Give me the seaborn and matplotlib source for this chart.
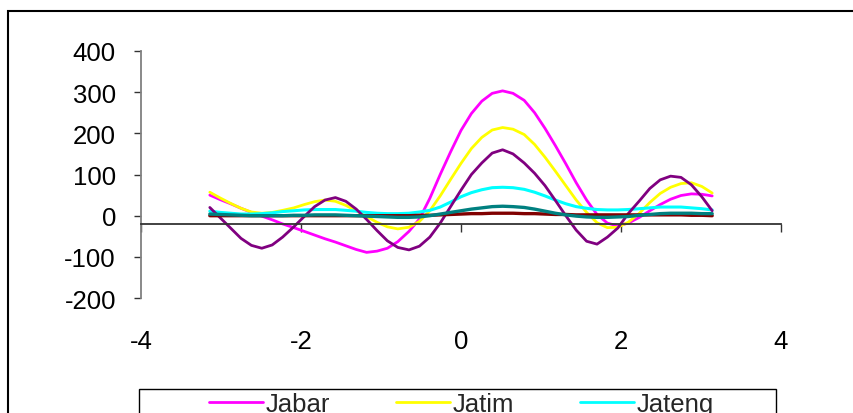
import matplotlib
matplotlib.use("Agg")
import matplotlib.pyplot as plt
from matplotlib.patches import Rectangle
from matplotlib.lines import Line2D
import seaborn as sns
import pandas as pd

# ---- data ----
x_vals = [-3.14, -3.01, -2.88, -2.75, -2.62, -2.49, -2.36, -2.23, -2.09, -1.96,
          -1.83, -1.70, -1.57, -1.44, -1.31, -1.18, -1.05, -0.92, -0.79, -0.65,
          -0.52, -0.39, -0.26, -0.13, 0.0, 0.13, 0.26, 0.39, 0.52, 0.65,
          0.79, 0.92, 1.05, 1.18, 1.31, 1.44, 1.57, 1.70, 1.83, 1.96,
          2.09, 2.23, 2.36, 2.49, 2.62, 2.75, 2.88, 3.01, 3.14]

jabar = [50, 39, 29, 18, 8, -1, -10, -20, -29, -38,
         -47, -56, -64, -73, -82, -89, -86, -79, -63, -38,
         -8, 42, 100, 155, 207, 248, 278, 297, 303, 297,
         280, 250, 212, 170, 126, 80, 38, 3, -18, -25,
         -18, -4, 12, 27, 40, 49, 53, 52, 48]
jatim = [57, 43, 30, 18, 9, 6, 8, 13, 19, 27,
         34, 38, 35, 25, 12, -2, -16, -27, -32, -28,
         -14, 12, 48, 88, 127, 163, 190, 208, 214, 210,
         197, 173, 142, 108, 73, 38, 8, -17, -29, -28,
         -16, 6, 32, 54, 69, 78, 80, 71, 55]
jateng = [11, 8, 6, 4, 4, 5, 7, 10, 12, 14,
          15, 15, 15, 13, 11, 8, 6, 5, 5, 6,
          9, 13, 21, 33, 46, 56, 63, 68, 69, 68,
          64, 57, 48, 38, 29, 22, 18, 15, 14, 14,
          15, 17, 19, 21, 21, 21, 19, 17, 14]
dki = [20, -5, -30, -55, -72, -79, -71, -52, -27, -2,
       22, 38, 44, 35, 16, -9, -36, -61, -77, -83,
       -74, -52, -18, 22, 62, 100, 128, 152, 160, 150,
       128, 103, 73, 37, 0, -35, -62, -69, -52, -30,
       5, 36, 66, 87, 96, 93, 75, 46, 12]
diy = [0, 0, 0, 0, 0, 0, 0, 0, 0, 0,
       0, 0, 0, 0, 0, 0, 0, 0, 0, 0,
       1, 1, 2, 3, 4, 5, 5, 6, 6, 6,
       5, 5, 4, 3, 3, 2, 2, 2, 2, 2,
       2, 2, 2, 2, 2, 2, 1, 1, 0]
bali = [4, 3, 2, 1, 0, 0, 0, 0, 1, 1,
        2, 2, 2, 1, 0, -1, -2, -3, -4, -4,
        -3, 0, 4, 8, 12, 16, 19, 22, 23, 22,
        20, 16, 11, 6, 2, -1, -3, -4, -4, -3,
        -2, 1, 3, 5, 6, 6, 6, 5, 5]

series_names = ["Jabar", "Jatim", "Jateng", "DKI", "DIY", "Bali"]
series_vals = [jabar, jatim, jateng, dki, diy, bali]
series_colors = ["#FF00FF", "#FFFF00", "#00FFFF", "#800080", "#800000", "#008080"]
series_widths = [2.0, 2.0, 2.2, 2.0, 2.4, 2.4]
x_ticks = [-4, -2, 0, 2, 4]
y_ticks = [-200, -100, 0, 100, 200, 300, 400]

rows = []
for name, vals in zip(series_names, series_vals):
    for xv, yv in zip(x_vals, vals):
        rows.append({"x": xv, "nilai": yv, "provinsi": name})
df = pd.DataFrame(rows)

sns.set_theme(style="white")
plt.rcParams["font.family"] = ["Liberation Sans", "DejaVu Sans"]

W, H = 854, 414
fig = plt.figure(figsize=(W / 100, H / 100), dpi=100)
fig.patch.set_facecolor("white")

y_top_px, y_bot_px = 51.9, 299.1
ax = fig.add_axes([141 / W, (H - y_bot_px) / H, 640 / W, (y_bot_px - y_top_px) / H])
ax.set_facecolor("white")

for name, col, lw in zip(series_names, series_colors, series_widths):
    sns.lineplot(data=df[df["provinsi"] == name], x="x", y="nilai",
                 color=col, estimator=None, sort=False, linewidth=lw,
                 legend=False, ax=ax)

ax.set_xlim(-4, 4)
ax.set_ylim(-200, 400)
ax.set_xticks(x_ticks)
ax.set_yticks(y_ticks)
ax.set_xticklabels([str(t) for t in x_ticks])
ax.set_yticklabels([str(t) for t in y_ticks])
ax.set_xlabel("")
ax.set_ylabel("")

for s in ["top", "right"]:
    ax.spines[s].set_visible(False)
ax.spines["left"].set_color("#808080")
ax.spines["left"].set_linewidth(1.3)
ax.spines["bottom"].set_position(("data", -20))
ax.spines["bottom"].set_color("#333333")
ax.spines["bottom"].set_linewidth(1.3)

ax.tick_params(axis="y", direction="out", length=5.3, width=1.0, color="#333333",
               pad=12.7, labelsize=18.5, labelcolor="black", left=True)
ax.tick_params(axis="x", direction="out", length=5.9, width=1.0, color="#333333",
               pad=70, labelsize=18.5, labelcolor="black", bottom=True)

# outer chart border (extends beyond the image on right/bottom)
fig.patches.append(Rectangle((8 / W, -0.2), 1.2, (H - 12) / H + 0.2,
                             transform=fig.transFigure, fill=False,
                             edgecolor="black", linewidth=1.5))
# legend box
fig.patches.append(Rectangle((139 / W, -0.2), 637 / W, (H - 390) / H + 0.2,
                             transform=fig.transFigure, fill=False,
                             edgecolor="black", linewidth=1.0))

# legend filled column-wise -> reorder so first row is Jabar, Jatim, Jateng
order = [0, 3, 1, 4, 2, 5]
handles = [Line2D([], [], color=series_colors[i], linewidth=2.0) for i in order]
labels = [series_names[i] for i in order]
fig.legend(handles, labels, ncol=3, loc="upper left",
           bbox_to_anchor=(209 / W, 1 - 393 / H), frameon=False,
           fontsize=18.5, handlelength=2.1, handletextpad=0.12,
           columnspacing=2.55, borderpad=0, borderaxespad=0, labelspacing=0.3)

fig.savefig("out.png", dpi=100, facecolor="white")
